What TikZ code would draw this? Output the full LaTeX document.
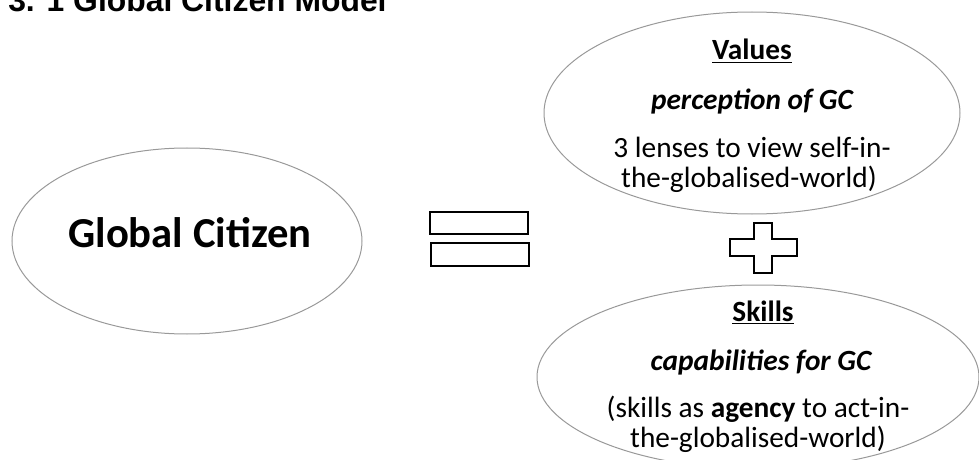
\documentclass[tikz,border=0pt]{standalone}
\usepackage{fontspec}
\setmainfont{Carlito}
\newfontfamily\titlefont{Liberation Sans}

\tikzset{
  oval/.style={draw=black!40, line width=0.75pt},
  sign/.style={draw=black, line width=1.6pt, fill=white, line join=miter},
  txt/.style={anchor=base, inner sep=0pt, font=\fontsize{22}{24}\selectfont},
}

\begin{document}
\begin{tikzpicture}[x=0.75pt,y=-0.75pt]
        \useasboundingbox (0,0) rectangle (979,460);
        \node[anchor=base west, inner sep=0pt, font=\titlefont\bfseries\fontsize{23.9}{26}\selectfont] (title) at (8,12) {3. 1 Global Citizen Model};
        % the three ovals
        \draw[oval] (187,241) ellipse [x radius=175, y radius=93];
        \draw[oval] (752,113) ellipse [x radius=208, y radius=101];
        \draw[oval] (758,377) ellipse [x radius=221, y radius=92];
        \node[txt, font=\bfseries\fontsize{32}{34}\selectfont] (gc) at (190,247) {Global Citizen};
        % equals and plus
        \draw[sign] (430,212) rectangle (528,234);
        \draw[sign] (431,243) rectangle (529,266);
        \draw[sign] (754,223) -- (772,223) -- (772,239) -- (797,239) -- (797,256) -- (772,256)
                -- (772,273) -- (754,273) -- (754,256) -- (730,256) -- (730,239) -- (754,239) -- cycle;
        % values
        \node[txt, font=\bfseries\fontsize{22}{24}\selectfont] (valhead) at (752,60) {\underline{Values}};
        \node[txt, font=\bfseries\itshape\fontsize{22}{24}\selectfont] (valsub) at (752,109) {perception of GC};
        \node[txt] (valtxta) at (752,157) {3 lenses to view self-in-};
        \node[txt] (valtxtb) at (749,187) {the-globalised-world)};
        % skills
        \node[txt, font=\bfseries\fontsize{22}{24}\selectfont] (skhead) at (763,321) {\underline{Skills}};
        \node[txt, font=\bfseries\itshape\fontsize{22}{24}\selectfont] (sksub) at (761,370) {capabilities for GC};
        \node[txt] (sktxta) at (758,417) {(skills as \textbf{agency} to act-in-};
        \node[txt] (sktxtb) at (758,447) {the-globalised-world)};
      \end{tikzpicture}
\end{document}
